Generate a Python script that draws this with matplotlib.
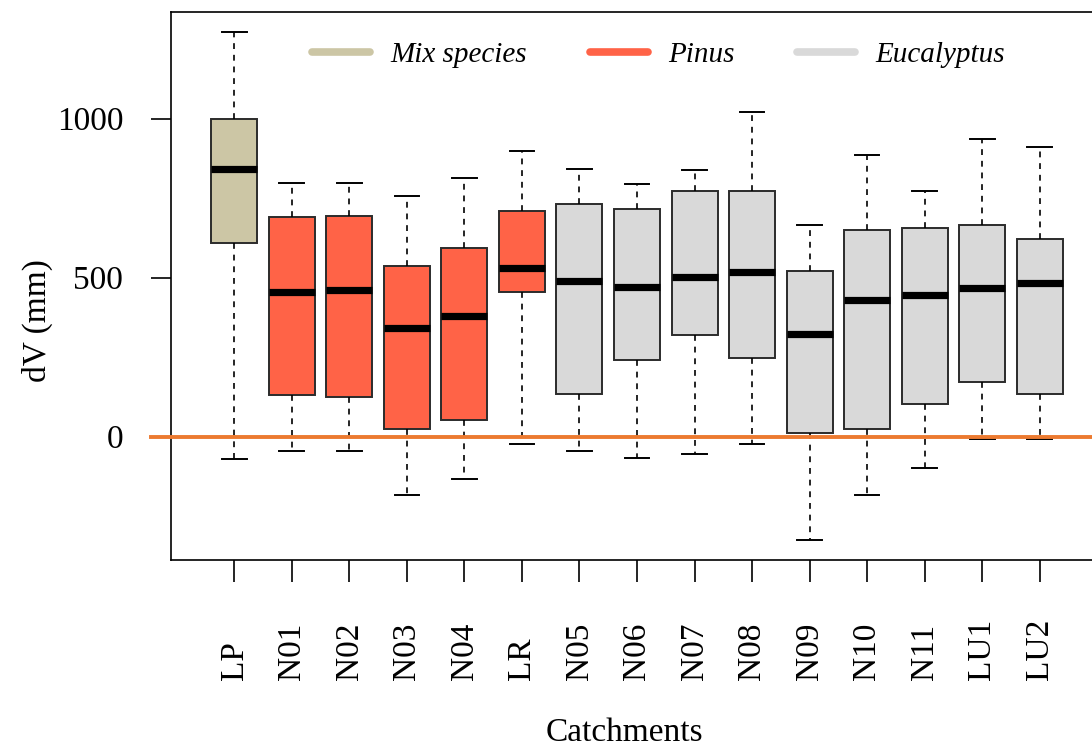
import matplotlib
matplotlib.use("Agg")
import matplotlib.pyplot as plt
from matplotlib.lines import Line2D

# ---- data ----
catchments = ["LP", "N01", "N02", "N03", "N04", "LR", "N05", "N06", "N07",
              "N08", "N09", "N10", "N11", "LU1", "LU2"]
groups = ["Mix", "Pinus", "Pinus", "Pinus", "Pinus", "Pinus", "Euc", "Euc",
          "Euc", "Euc", "Euc", "Euc", "Euc", "Euc", "Euc"]
whisker_low = [-71, -45, -45, -185, -133, -22, -45, -66, -56, -22, -324, -185, -100, -8, -8]
q1 = [608, 130, 125, 25, 53, 454, 134, 241, 321, 246, 10, 25, 101, 173, 134]
median = [842, 455, 460, 341, 379, 530, 489, 470, 502, 517, 322, 429, 446, 466, 484]
q3 = [1000, 689, 693, 536, 593, 708, 732, 717, 771, 771, 521, 651, 655, 665, 622]
whisker_high = [1271, 796, 796, 755, 813, 899, 841, 795, 837, 1020, 666, 885, 771, 937, 910]

legend_labels = ["Mix species", "Pinus", "Eucalyptus"]
group_keys = ["Mix", "Pinus", "Euc"]
group_colors = {"Mix": "#CCC6A5", "Pinus": "#FF6347", "Euc": "#D9D9D9"}
ref_color = "#EC7A30"

serif = ["Liberation Serif", "DejaVu Serif"]
plt.rcParams["font.family"] = serif

fig = plt.figure(figsize=(10.92, 7.48), dpi=100)
ax = fig.add_axes([171 / 1092, (748 - 560) / 748, (1103 - 171) / 1092, (560 - 12) / 748])

stats = []
for i, name in enumerate(catchments):
    stats.append(dict(label=name, whislo=whisker_low[i], q1=q1[i], med=median[i],
                      q3=q3[i], whishi=whisker_high[i], fliers=[]))

positions = list(range(1, len(catchments) + 1))
bp = ax.bxp(stats, positions=positions, widths=0.8, patch_artist=True,
            showfliers=False, capwidths=0.43,
            boxprops=dict(edgecolor="#2b2b2b", linewidth=1.4),
            medianprops=dict(color="black", linewidth=5.2, solid_capstyle="butt"),
            whiskerprops=dict(color="black", linewidth=1.2, linestyle=(0, (3.5, 3.5))),
            capprops=dict(color="black", linewidth=1.4))
for patch, g in zip(bp["boxes"], groups):
    patch.set_facecolor(group_colors[g])

# reference line at zero
ax.axhline(0, xmin=-20 / 932, xmax=1, color=ref_color, linewidth=2.8,
           clip_on=False, zorder=5)

ax.set_xlim(-0.1, 16.1)
ax.set_ylim(-388, 1335)

for s in ["left", "top", "bottom"]:
    ax.spines[s].set_linewidth(1.2)
    ax.spines[s].set_color("black")
ax.spines["right"].set_visible(False)

ax.set_yticks([0, 500, 1000])
ax.set_yticklabels(["0", "500", "1000"], fontsize=24)
ax.tick_params(axis="y", length=14.4, width=1.2, pad=20)

ax.set_xticks(positions)
ax.set_xticklabels(catchments, fontsize=24, rotation=90, va="bottom", ha="center")
ax.tick_params(axis="x", length=15.8, width=1.2, pad=70.5)

ax.set_ylabel("dV (mm)", fontsize=24)
ax.yaxis.set_label_coords(-0.127, (560 - 321) / 548)
ax.set_xlabel("Catchments", fontsize=24)
ax.xaxis.set_label_coords((624 - 171) / 932, -(733 - 560) / 548)
ax.xaxis.label.set_va("center")

handles = [Line2D([0], [0], color=group_colors[k], linewidth=5.5,
                  solid_capstyle="round") for k in group_keys]
leg = ax.legend(handles, legend_labels, loc="center left",
                bbox_to_anchor=((312 - 171) / 932, (560 - 55) / 548),
                ncol=3, frameon=False, borderpad=0, borderaxespad=0,
                handlelength=2.0, handletextpad=0.68, columnspacing=2.15,
                prop=dict(family=serif, style="italic", size=21))

fig.savefig("out.png", dpi=100)
